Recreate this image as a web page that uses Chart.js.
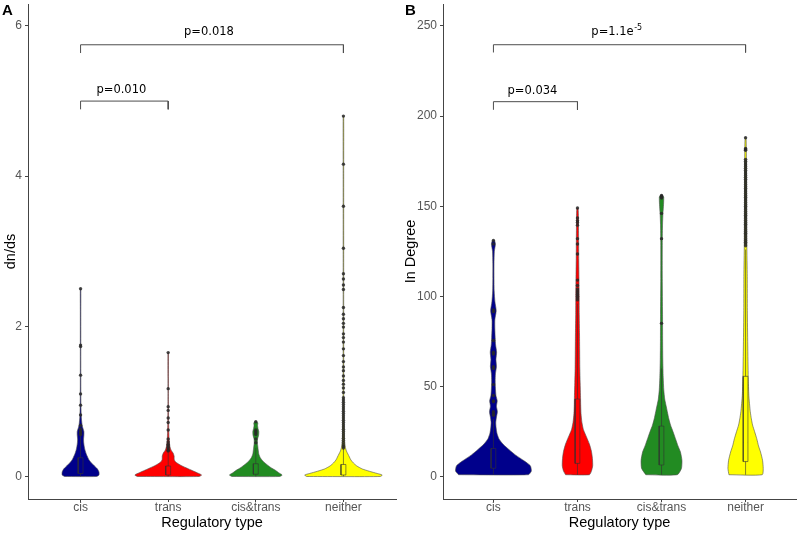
<!DOCTYPE html>
<html>
<head>
<meta charset="utf-8">
<script src="https://cdn.jsdelivr.net/npm/chart.js@4/dist/chart.umd.min.js"></script>
<style>
  html, body { margin: 0; padding: 0; background: #fff; }
  #wrap { position: relative; width: 800px; height: 533px; }
  canvas { position: absolute; top: 0; }
</style>
</head>
<body>
<div id="wrap">
  <canvas id="chartA" width="400" height="533" style="left:0"></canvas>
  <canvas id="chartB" width="400" height="533" style="left:400px"></canvas>
</div>
<script>
const categories = ['cis', 'trans', 'cis&trans', 'neither'];
const fillColors = ['#00008B', '#FF0000', '#228B22', '#FFFF00'];

// panel A: dn/ds  (violin half-widths in category units)
const levelsA = [
  [0, 0.02, 0.06, 0.1, 0.14, 0.18, 0.22, 0.26, 0.3, 0.35, 0.4, 0.45, 0.5, 0.55, 0.6, 0.65, 0.7, 0.8, 1.0, 1.4, 1.8, 2.2, 2.5],
  [0, 0.02, 0.05, 0.08, 0.11, 0.14, 0.17, 0.2, 0.23, 0.27, 0.31, 0.35, 0.4, 0.5, 0.7, 1.0, 1.3, 1.65],
  [0, 0.02, 0.05, 0.08, 0.12, 0.16, 0.2, 0.25, 0.3, 0.35, 0.4, 0.45, 0.5, 0.55, 0.6, 0.64, 0.68, 0.71, 0.73],
  [0, 0.02, 0.04, 0.07, 0.1, 0.14, 0.18, 0.22, 0.26, 0.3, 0.34, 0.4, 0.5, 0.7, 1, 2, 3, 4, 4.8]
];
const widthsA = [
  [0.182, 0.210, 0.210, 0.193, 0.159, 0.125, 0.097, 0.080, 0.065, 0.051, 0.042, 0.036, 0.034, 0.038, 0.038, 0.025, 0.016, 0.008, 0.004, 0.003, 0.003, 0.003, 0.003],
  [0.352, 0.381, 0.330, 0.273, 0.216, 0.159, 0.114, 0.080, 0.068, 0.068, 0.057, 0.034, 0.020, 0.010, 0.005, 0.003, 0.003, 0.003],
  [0.273, 0.301, 0.261, 0.227, 0.170, 0.125, 0.085, 0.051, 0.034, 0.028, 0.023, 0.018, 0.020, 0.032, 0.034, 0.025, 0.020, 0.023, 0.014],
  [0.420, 0.443, 0.386, 0.295, 0.216, 0.153, 0.114, 0.085, 0.068, 0.051, 0.034, 0.020, 0.012, 0.007, 0.004, 0.003, 0.003, 0.003, 0.003]
];
// [lower whisker, Q1, median, Q3, upper whisker]
const boxA = [
  [0, 0.04, 0.11, 0.25, 0.55],
  [0, 0.02, 0.06, 0.14, 0.32],
  [0, 0.03, 0.09, 0.17, 0.38],
  [0, 0.02, 0.07, 0.16, 0.37]
];
const outliersA = [
  [2.5, 1.75, 1.73, 1.35, 1.1, 0.95, 0.82, 0.68, 0.63, 0.6, 0.58, 0.56],
  [1.65, 1.17, 0.93, 0.88, 0.78, 0.72, 0.62, 0.5, 0.46, 0.43, 0.41, 0.39, 0.37, 0.35, 0.34],
  [0.73, 0.62, 0.6, 0.58, 0.56, 0.5, 0.45],
  [4.8, 4.16, 3.6, 3.04, 2.7, 2.63, 2.55, 2.49, 2.25, 2.16, 2.1, 2.04, 1.99, 1.9, 1.85, 1.79, 1.7, 1.61,
   1.53, 1.46, 1.41, 1.34, 1.28, 1.23, 1.18, 1.12, 1.05, 1.02, 0.99, 0.96, 0.93, 0.9, 0.87, 0.84, 0.81,
   0.78, 0.75, 0.72, 0.69, 0.66, 0.63, 0.6, 0.57, 0.54, 0.51, 0.48, 0.45, 0.42, 0.4, 0.38]
];
const yTicksA = [0, 2, 4, 6];
// brackets: [from category, to category, tick end, bar level]
const bracketsA = [[1, 2, 4.89, 5.0], [1, 4, 5.64, 5.75]];
const pLabelsA = [['p=0.010', ''], ['p=0.018', '']];
const pLabelYA = [5.15, 5.92];

// panel B: In Degree
const levelsB = [
  [1, 3, 6, 9, 12, 15, 18, 21, 24, 27, 30, 33, 36, 39, 42, 45, 49, 53, 57, 61, 65, 69, 73, 77, 82, 87, 92, 97, 103, 110, 118, 125, 129, 131],
  [1, 3, 6, 10, 14, 18, 22, 26, 30, 35, 40, 45, 52, 60, 70, 80, 90, 100, 110, 120, 130, 140, 146, 149],
  [1, 4.5, 9, 13.6, 17, 21, 25, 28.6, 32, 36, 40, 43, 48, 55, 65, 75, 90, 110, 130, 140, 146, 151, 155, 156],
  [1, 4.5, 9, 13.6, 17, 21, 25, 28.6, 32, 36, 45, 55, 73, 92, 111, 129, 150, 170, 182, 188]
];
const widthsB = [
  [0.415, 0.451, 0.439, 0.356, 0.261, 0.184, 0.113, 0.065, 0.042, 0.032, 0.028, 0.036, 0.047, 0.036, 0.045, 0.030, 0.024, 0.021, 0.024, 0.036, 0.030, 0.038, 0.026, 0.021, 0.017, 0.017, 0.033, 0.018, 0.009, 0.007, 0.007, 0.011, 0.024, 0.012],
  [0.142, 0.166, 0.181, 0.178, 0.166, 0.142, 0.107, 0.071, 0.053, 0.042, 0.038, 0.036, 0.032, 0.028, 0.026, 0.024, 0.021, 0.020, 0.018, 0.015, 0.014, 0.012, 0.011, 0.006],
  [0.187, 0.237, 0.243, 0.225, 0.196, 0.166, 0.136, 0.107, 0.087, 0.069, 0.051, 0.038, 0.027, 0.020, 0.015, 0.013, 0.012, 0.009, 0.009, 0.012, 0.017, 0.024, 0.026, 0.014],
  [0.198, 0.210, 0.202, 0.178, 0.154, 0.133, 0.107, 0.083, 0.069, 0.056, 0.039, 0.032, 0.026, 0.021, 0.020, 0.015, 0.013, 0.011, 0.009, 0.005]
];
const boxB = [
  [1, 4.6, 9.2, 15.6, 32],
  [1, 7.3, 15, 43, 96],
  [1, 6.4, 11.6, 28, 60],
  [1, 8.3, 19, 55.6, 126]
];
const outliersB = [
  [131, 129, 92.5, 91.5, 75.5, 69, 68, 61, 60, 51, 45, 42, 41.5, 36, 35, 34],
  [149, 143.5, 142, 141, 139.5, 132, 129, 123.5, 109, 106, 104, 103, 102, 101, 100, 99, 98],
  [156, 155.5, 155, 154.5, 146, 132, 85],
  [188, 182, 181.5, 181, 176, 175, 174, 173, 172, 171, 170, 169, 168, 167, 166, 165, 164, 163, 162, 161,
   160, 159, 158, 157, 156, 155, 154, 153, 152, 151, 150, 149, 148, 147, 146, 145, 144, 143, 142, 141,
   140, 139, 138, 137, 136, 135, 134, 133, 132, 131, 130, 129, 128]
];
const yTicksB = [0, 50, 100, 150, 200, 250];
const bracketsB = [[1, 2, 203.5, 208], [1, 4, 235.3, 239.6]];
const pLabelsB = [['p=0.034', ''], ['p=1.1e', '-5']];
const pLabelYB = [213.8, 246.5];

const BOX_HALF = 0.028;
const LINE_GREY = '#4d4d4d';

function violinPath(cat, levels, widths) {
  const left = levels.map((y, i) => ({ x: cat - widths[i], y }));
  const right = levels.map((y, i) => ({ x: cat + widths[i], y })).reverse();
  return [...left, ...right, left[0]];
}

function buildDatasets(levels, widths, boxes, outliers, brackets) {
  const ds = [];
  categories.forEach((c, i) => {
    const cat = i + 1;
    const [lo, q1, med, q3, hi] = boxes[i];
    ds.push({
      data: violinPath(cat, levels[i], widths[i]),
      fill: 'shape', backgroundColor: fillColors[i],
      borderColor: LINE_GREY, borderWidth: 0.6, pointRadius: 0, tension: 0.2, order: 5
    });
    ds.push({
      data: [{ x: cat, y: lo }, { x: cat, y: hi }],
      fill: false, borderColor: '#333', borderWidth: 0.6, pointRadius: 0, order: 4
    });
    ds.push({
      data: [{ x: cat - BOX_HALF, y: q1 }, { x: cat + BOX_HALF, y: q1 }, { x: cat + BOX_HALF, y: q3 },
             { x: cat - BOX_HALF, y: q3 }, { x: cat - BOX_HALF, y: q1 }],
      fill: 'shape', backgroundColor: fillColors[i],
      borderColor: '#333', borderWidth: 0.6, pointRadius: 0, order: 3
    });
    ds.push({
      data: [{ x: cat - BOX_HALF, y: med }, { x: cat + BOX_HALF, y: med }],
      fill: false, borderColor: '#333', borderWidth: 0.9, pointRadius: 0, order: 3
    });
    ds.push({
      data: outliers[i].map(v => ({ x: cat, y: v })),
      showLine: false, pointRadius: 1.7, pointBorderWidth: 0,
      pointBackgroundColor: 'rgba(40,40,40,0.85)', order: 1
    });
  });
  brackets.forEach(([a, b, low, top]) => {
    ds.push({
      data: [{ x: a, y: low }, { x: a, y: top }, { x: b, y: top }, { x: b, y: low }],
      fill: false, borderColor: LINE_GREY, borderWidth: 1, pointRadius: 0, order: 0
    });
  });
  return ds;
}

// p-value texts (with optional superscript) and the panel letter
const annotate = {
  id: 'annotate',
  afterDatasetsDraw(chart, args, opts) {
    const { ctx, scales: { x, y } } = chart;
    const baseFont = '11.5px "DejaVu Sans"';
    const supFont = '8px "DejaVu Sans"';
    ctx.save();
    ctx.fillStyle = '#000';
    ctx.textAlign = 'left';
    ctx.textBaseline = 'middle';
    opts.labels.forEach(([base, sup], i) => {
      const [a, b] = opts.brackets[i];
      ctx.font = baseFont;
      const wb = ctx.measureText(base).width;
      ctx.font = supFont;
      const ws = sup ? ctx.measureText(sup).width : 0;
      const cx = x.getPixelForValue((a + b) / 2) - 3;
      const cy = y.getPixelForValue(opts.ys[i]);
      const x0 = cx - (wb + ws) / 2;
      ctx.font = baseFont;
      ctx.fillText(base, x0, cy);
      if (sup) {
        ctx.font = supFont;
        ctx.fillText(sup, x0 + wb + 0.5, cy - 4.5);
      }
    });
    ctx.font = 'bold 15px "Liberation Sans"';
    ctx.textBaseline = 'top';
    ctx.fillText(opts.panel, opts.panelX, 3);
    ctx.restore();
  }
};

function makeChart(id, cfg) {
  return new Chart(document.getElementById(id), {
    type: 'line',
    data: { datasets: buildDatasets(cfg.levels, cfg.widths, cfg.boxes, cfg.outliers, cfg.brackets) },
    plugins: [annotate],
    options: {
      responsive: false, animation: false, devicePixelRatio: 1, events: [],
      layout: { padding: { top: 3, right: cfg.padRight, left: 0, bottom: 0 } },
      plugins: {
        legend: { display: false }, tooltip: { enabled: false },
        annotate: { labels: cfg.pLabels, ys: cfg.pY, brackets: cfg.brackets, panel: cfg.panel, panelX: cfg.panelX }
      },
      scales: {
        x: {
          type: 'linear', min: 0.4, max: 4.6,
          afterBuildTicks: s => { s.ticks = categories.map((c, i) => ({ value: i + 1 })); },
          afterFit: s => { s.height = 34; s.paddingLeft = 0; s.paddingRight = 0; },
          ticks: {
            callback: v => categories[v - 1], color: '#555', autoSkip: false, maxRotation: 0,
            padding: -2, font: { family: 'Liberation Sans', size: 12 }
          },
          grid: { drawOnChartArea: false, tickLength: 3, color: '#444' },
          border: { color: '#444', width: 1 },
          title: {
            display: true, text: 'Regulatory type', color: '#000',
            font: { family: 'Liberation Sans', size: 14.5 }, padding: { top: 0, bottom: 1 }
          }
        },
        y: {
          type: 'linear', min: cfg.yMin, max: cfg.yMax,
          afterBuildTicks: s => { s.ticks = cfg.yTicks.map(v => ({ value: v })); },
          afterFit: s => { s.width = cfg.yWidth; s.paddingTop = 0; s.paddingBottom = 0; },
          ticks: { color: '#555', padding: 3, font: { family: 'Liberation Sans', size: 12 } },
          grid: { drawOnChartArea: false, tickLength: 3, color: '#444' },
          border: { color: '#444', width: 1 },
          title: {
            display: true, text: cfg.yTitle, color: '#000',
            font: { family: 'Liberation Sans', size: 14.5 }, padding: { top: 2, bottom: 0 }
          }
        }
      }
    }
  });
}

makeChart('chartA', {
  levels: levelsA, widths: widthsA, boxes: boxA, outliers: outliersA, brackets: bracketsA,
  pLabels: pLabelsA, pY: pLabelYA, yTicks: yTicksA, yMin: -0.2997, yMax: 6.293,
  yTitle: 'dn/ds', yWidth: 28, padRight: 2, panel: 'A', panelX: 2
});
makeChart('chartB', {
  levels: levelsB, widths: widthsB, boxes: boxB, outliers: outliersB, brackets: bracketsB,
  pLabels: pLabelsB, pY: pLabelYB, yTicks: yTicksB, yMin: -12.47, yMax: 262.2,
  yTitle: 'In Degree', yWidth: 43, padRight: 3, panel: 'B', panelX: 5
});
</script>
</body>
</html>
